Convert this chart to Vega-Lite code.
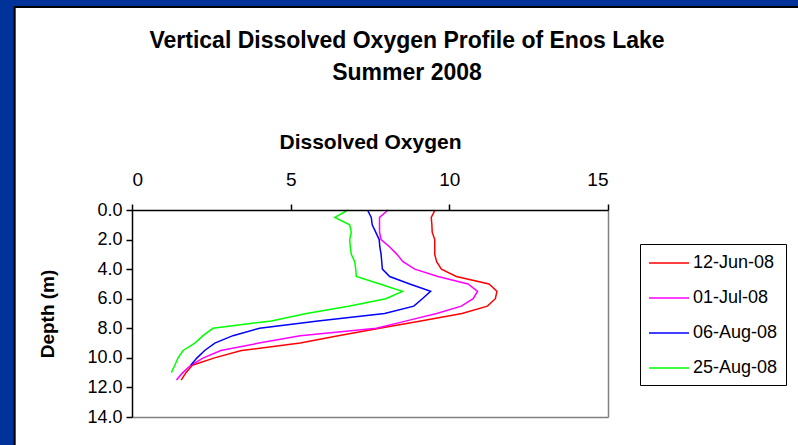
{
  "$schema": "https://vega.github.io/schema/vega-lite/v6.json",
  "width": 476,
  "height": 207,
  "autosize": {"type": "none"},
  "padding": {"left": 132, "top": 210, "right": 190, "bottom": 28},
  "background": "#003399",
  "title": {
    "text": ["Vertical Dissolved Oxygen Profile of Enos Lake", "Summer 2008"],
    "fontSize": 23,
    "fontWeight": "bold",
    "font": "Liberation Sans",
    "color": "#000000",
    "lineHeight": 32,
    "anchor": "middle",
    "frame": "group",
    "dx": 37,
    "offset": -79
  },
  "resolve": {"axis": {"x": "independent", "y": "independent"}},
  "config": {
    "view": {"stroke": null},
    "font": "Liberation Sans",
    "axis": {
      "grid": false,
      "domainColor": "#000000",
      "domainWidth": 1.5,
      "tickColor": "#000000",
      "tickWidth": 1.5,
      "tickSize": 6,
      "labelColor": "#000000",
      "titleColor": "#000000",
      "labelFont": "Liberation Sans",
      "titleFont": "Liberation Sans",
      "labelFontSize": 18,
      "titleFontSize": 19,
      "titleFontWeight": "bold"
    },
    "legend": {
      "labelFont": "Liberation Sans",
      "labelFontSize": 18,
      "labelColor": "#000000"
    }
  },
  "layer": [
    {
      "data": {"values": [{"panel": "background"}]},
      "mark": {"type": "rect", "fill": "#ffffff", "stroke": "#000000", "strokeWidth": 2},
      "encoding": {
        "x": {
          "datum": -3.697,
          "type": "quantitative",
          "scale": {"domain": [0, 15], "nice": false, "zero": false},
          "axis": {"orient": "bottom", "labels": false, "ticks": false, "title": null, "domainColor": "#808080", "domainWidth": 1.5, "zindex": 1}
        },
        "x2": {"datum": 22},
        "y": {
          "datum": -13.73,
          "type": "quantitative",
          "scale": {"domain": [0, 14], "nice": false, "zero": false, "reverse": true},
          "axis": {"orient": "right", "labels": false, "ticks": false, "title": null, "domainColor": "#808080", "domainWidth": 1.5, "zindex": 1}
        },
        "y2": {"datum": 17}
      }
    },
    {
      "data": {
        "values": [
          {"series": "12-Jun-08", "depth": 0.0, "do": 9.55},
          {"series": "12-Jun-08", "depth": 0.5, "do": 9.43},
          {"series": "12-Jun-08", "depth": 1.0, "do": 9.45},
          {"series": "12-Jun-08", "depth": 1.5, "do": 9.46},
          {"series": "12-Jun-08", "depth": 2.0, "do": 9.54},
          {"series": "12-Jun-08", "depth": 2.5, "do": 9.54},
          {"series": "12-Jun-08", "depth": 3.0, "do": 9.54},
          {"series": "12-Jun-08", "depth": 3.5, "do": 9.6},
          {"series": "12-Jun-08", "depth": 4.0, "do": 9.75},
          {"series": "12-Jun-08", "depth": 4.5, "do": 10.22},
          {"series": "12-Jun-08", "depth": 5.0, "do": 11.25},
          {"series": "12-Jun-08", "depth": 5.5, "do": 11.5},
          {"series": "12-Jun-08", "depth": 6.0, "do": 11.45},
          {"series": "12-Jun-08", "depth": 6.5, "do": 11.2},
          {"series": "12-Jun-08", "depth": 7.0, "do": 10.4},
          {"series": "12-Jun-08", "depth": 7.5, "do": 9.1},
          {"series": "12-Jun-08", "depth": 8.0, "do": 7.8},
          {"series": "12-Jun-08", "depth": 8.5, "do": 6.5},
          {"series": "12-Jun-08", "depth": 9.0, "do": 5.3},
          {"series": "12-Jun-08", "depth": 9.5, "do": 3.45},
          {"series": "12-Jun-08", "depth": 10.0, "do": 2.6},
          {"series": "12-Jun-08", "depth": 10.5, "do": 1.9},
          {"series": "12-Jun-08", "depth": 11.0, "do": 1.7},
          {"series": "12-Jun-08", "depth": 11.5, "do": 1.55},
          {"series": "01-Jul-08", "depth": 0.0, "do": 8.07},
          {"series": "01-Jul-08", "depth": 0.5, "do": 7.8},
          {"series": "01-Jul-08", "depth": 1.0, "do": 7.8},
          {"series": "01-Jul-08", "depth": 1.5, "do": 7.8},
          {"series": "01-Jul-08", "depth": 2.0, "do": 7.85},
          {"series": "01-Jul-08", "depth": 2.5, "do": 8.12},
          {"series": "01-Jul-08", "depth": 3.0, "do": 8.35},
          {"series": "01-Jul-08", "depth": 3.5, "do": 8.54},
          {"series": "01-Jul-08", "depth": 4.0, "do": 8.91},
          {"series": "01-Jul-08", "depth": 4.5, "do": 9.64},
          {"series": "01-Jul-08", "depth": 5.0, "do": 10.59},
          {"series": "01-Jul-08", "depth": 5.5, "do": 10.89},
          {"series": "01-Jul-08", "depth": 6.0, "do": 10.75},
          {"series": "01-Jul-08", "depth": 6.5, "do": 10.38},
          {"series": "01-Jul-08", "depth": 7.0, "do": 9.6},
          {"series": "01-Jul-08", "depth": 7.5, "do": 8.65},
          {"series": "01-Jul-08", "depth": 8.0, "do": 7.7},
          {"series": "01-Jul-08", "depth": 8.5, "do": 5.3},
          {"series": "01-Jul-08", "depth": 9.0, "do": 4.0},
          {"series": "01-Jul-08", "depth": 9.5, "do": 2.8},
          {"series": "01-Jul-08", "depth": 10.0, "do": 2.25},
          {"series": "01-Jul-08", "depth": 10.5, "do": 1.85},
          {"series": "01-Jul-08", "depth": 11.0, "do": 1.6},
          {"series": "01-Jul-08", "depth": 11.5, "do": 1.4},
          {"series": "06-Aug-08", "depth": 0.0, "do": 7.42},
          {"series": "06-Aug-08", "depth": 0.5, "do": 7.54},
          {"series": "06-Aug-08", "depth": 1.0, "do": 7.57},
          {"series": "06-Aug-08", "depth": 1.5, "do": 7.68},
          {"series": "06-Aug-08", "depth": 2.0, "do": 7.79},
          {"series": "06-Aug-08", "depth": 2.5, "do": 7.81},
          {"series": "06-Aug-08", "depth": 3.0, "do": 7.85},
          {"series": "06-Aug-08", "depth": 3.5, "do": 7.87},
          {"series": "06-Aug-08", "depth": 4.0, "do": 7.89},
          {"series": "06-Aug-08", "depth": 4.5, "do": 8.12},
          {"series": "06-Aug-08", "depth": 5.0, "do": 8.75},
          {"series": "06-Aug-08", "depth": 5.5, "do": 9.41},
          {"series": "06-Aug-08", "depth": 6.0, "do": 9.15},
          {"series": "06-Aug-08", "depth": 6.5, "do": 8.88},
          {"series": "06-Aug-08", "depth": 7.0, "do": 7.96},
          {"series": "06-Aug-08", "depth": 7.5, "do": 5.86},
          {"series": "06-Aug-08", "depth": 8.0, "do": 4.02},
          {"series": "06-Aug-08", "depth": 8.5, "do": 3.18},
          {"series": "06-Aug-08", "depth": 9.0, "do": 2.61},
          {"series": "06-Aug-08", "depth": 9.5, "do": 2.29},
          {"series": "06-Aug-08", "depth": 10.0, "do": 2.05},
          {"series": "06-Aug-08", "depth": 10.5, "do": 1.85},
          {"series": "25-Aug-08", "depth": 0.0, "do": 6.81},
          {"series": "25-Aug-08", "depth": 0.5, "do": 6.39},
          {"series": "25-Aug-08", "depth": 1.0, "do": 6.86},
          {"series": "25-Aug-08", "depth": 1.5, "do": 6.91},
          {"series": "25-Aug-08", "depth": 2.0, "do": 6.86},
          {"series": "25-Aug-08", "depth": 2.5, "do": 6.88},
          {"series": "25-Aug-08", "depth": 3.0, "do": 6.91},
          {"series": "25-Aug-08", "depth": 3.5, "do": 7.02},
          {"series": "25-Aug-08", "depth": 4.0, "do": 7.05},
          {"series": "25-Aug-08", "depth": 4.5, "do": 7.07},
          {"series": "25-Aug-08", "depth": 5.0, "do": 7.81},
          {"series": "25-Aug-08", "depth": 5.5, "do": 8.52},
          {"series": "25-Aug-08", "depth": 6.0, "do": 8.0},
          {"series": "25-Aug-08", "depth": 6.5, "do": 6.86},
          {"series": "25-Aug-08", "depth": 7.0, "do": 5.5},
          {"series": "25-Aug-08", "depth": 7.5, "do": 4.39},
          {"series": "25-Aug-08", "depth": 8.0, "do": 2.55},
          {"series": "25-Aug-08", "depth": 8.5, "do": 2.24},
          {"series": "25-Aug-08", "depth": 9.0, "do": 1.98},
          {"series": "25-Aug-08", "depth": 9.5, "do": 1.61},
          {"series": "25-Aug-08", "depth": 10.0, "do": 1.45},
          {"series": "25-Aug-08", "depth": 10.5, "do": 1.35},
          {"series": "25-Aug-08", "depth": 11.0, "do": 1.24}
        ]
      },
      "mark": {"type": "line", "strokeWidth": 1.5},
      "encoding": {
        "x": {
          "field": "do",
          "type": "quantitative",
          "scale": {"domain": [0, 15], "nice": false, "zero": false},
          "axis": {
            "orient": "top",
            "values": [0, 5, 10, 15],
            "title": "Dissolved Oxygen",
            "labelFontSize": 19,
            "titleFontSize": 21,
            "labelPadding": 15,
            "titlePadding": 18,
            "zindex": 2
          }
        },
        "y": {
          "field": "depth",
          "type": "quantitative",
          "scale": {"domain": [0, 14], "nice": false, "zero": false, "reverse": true},
          "axis": {
            "orient": "left",
            "values": [0, 2, 4, 6, 8, 10, 12, 14],
            "format": ".1f",
            "title": "Depth (m)",
            "labelPadding": 4,
            "titlePadding": 29,
            "zindex": 2
          }
        },
        "order": {"field": "depth", "type": "quantitative"},
        "color": {
          "field": "series",
          "type": "nominal",
          "scale": {
            "domain": ["12-Jun-08", "01-Jul-08", "06-Aug-08", "25-Aug-08"],
            "range": ["#ff0000", "#ff00ff", "#0000ff", "#00ff00"]
          },
          "legend": {
            "title": null,
            "orient": "none",
            "legendX": 508,
            "legendY": 34,
            "strokeColor": "#000000",
            "fillColor": "#ffffff",
            "padding": 8,
            "symbolType": "M-1,0H3",
            "symbolSize": 400,
            "symbolStrokeWidth": 1.5,
            "labelOffset": 23,
            "rowPadding": 15
          }
        }
      }
    }
  ]
}
